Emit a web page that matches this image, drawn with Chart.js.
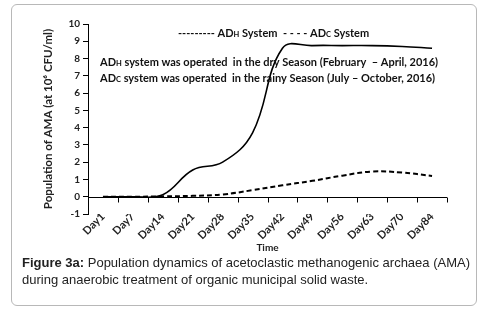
<!DOCTYPE html>
<html>
<head>
<meta charset="utf-8">
<script src="https://cdn.jsdelivr.net/npm/chart.js@4.4.0/dist/chart.umd.min.js"></script>
<style>
  body { margin: 0; background: #fff; }
  #frame { position: absolute; left: 11px; top: 4px; width: 464px; height: 300px; border: 1px solid #b8b8b8; border-radius: 6px; }
  #amaChart { position: absolute; left: 0; top: 0; }
  #caption { position: absolute; left: 22px; top: 254px; font: 13px "Liberation Sans", Arial, sans-serif; line-height: 17px; color: #222; white-space: nowrap; }
</style>
</head>
<body>
<div id="frame"></div>
<canvas id="amaChart" width="484" height="310"></canvas>
<div id="caption"><b>Figure 3a:</b> Population dynamics of acetoclastic methanogenic archaea (AMA)<br>during anaerobic treatment of organic municipal solid waste.</div>
<script>
// data
const days = ['Day1', 'Day7', 'Day14', 'Day21', 'Day28', 'Day35', 'Day42', 'Day49', 'Day56', 'Day63', 'Day70', 'Day84'];
const adH = [0, 0, 0.12, 1.55, 2.0, 3.7, 8.6, 8.75, 8.75, 8.75, 8.7, 8.6];
const adC = [0, 0, 0.02, 0.05, 0.13, 0.38, 0.66, 0.92, 1.22, 1.46, 1.4, 1.2];
const yTicks = { min: -1, max: 10, step: 1 };

const boldFont = "'Lato', 'DejaVu Sans', sans-serif";

// draws pieces of text one after another, some of them as small subscripts
function drawPieces(ctx, pieces, x, y) {
    pieces.forEach(p => {
        const size = p.sub ? 7.5 : 11;
        ctx.font = 'bold ' + size + 'px ' + boldFont;
        ctx.fillText(p.t, x, y + (p.sub ? 1.5 : 0));
        x += ctx.measureText(p.t).width;
    });
}

// zero line with tick marks + legend text + notes
const extras = {
    id: 'extras',
    beforeDatasetsDraw(chart) {
        const ctx = chart.ctx;
        const xs = chart.scales.x;
        const ys = chart.scales.y;
        const area = chart.chartArea;
        const y0 = Math.round(ys.getPixelForValue(0)) + 0.5;
        ctx.save();
        ctx.strokeStyle = '#000';
        ctx.lineWidth = 1;
        ctx.beginPath();
        ctx.moveTo(area.left, y0);
        ctx.lineTo(area.right, y0);
        for (let i = 0; i <= days.length; i++) {
            const x = Math.round(xs.getPixelForValue(i - 0.5)) + 0.5;
            ctx.moveTo(x, y0);
            ctx.lineTo(x, y0 + 5);
        }
        ctx.stroke();
        ctx.restore();
    },
    afterDraw(chart) {
        const ctx = chart.ctx;
        const ys = chart.scales.y;
        const left = chart.chartArea.left;
        ctx.save();
        ctx.fillStyle = '#111';
        ctx.textBaseline = 'middle';
        drawPieces(ctx, [{t: '--------- AD'}, {t: 'H', sub: true}, {t: ' System'}], left + 90, ys.getPixelForValue(9.45));
        drawPieces(ctx, [{t: '- - - - AD'}, {t: 'C', sub: true}, {t: ' System'}], left + 195, ys.getPixelForValue(9.45));
        drawPieces(ctx, [{t: 'AD'}, {t: 'H', sub: true}, {t: ' system was operated  in the dry Season (February  \u2013 April, 2016)'}], left + 12, ys.getPixelForValue(7.8));
        drawPieces(ctx, [{t: 'AD'}, {t: 'C', sub: true}, {t: ' system was operated  in the rainy Season (July \u2013 October, 2016)'}], left + 12, ys.getPixelForValue(6.85));
        ctx.restore();
    }
};

const ctx = document.getElementById('amaChart').getContext('2d');

const amaChart = new Chart(ctx, {
    type: 'line',
    data: {
        labels: days,
        datasets: [{
            label: 'ADH System',
            data: adH,
            borderColor: '#000',
            borderWidth: 1.6,
            pointRadius: 0,
            tension: 0.4,
            fill: false
        }, {
            label: 'ADC System',
            data: adC,
            borderColor: '#000',
            borderWidth: 2,
            borderDash: [5, 3],
            pointRadius: 0,
            tension: 0.4,
            fill: false
        }]
    },
    options: {
        responsive: false,
        animation: false,
        devicePixelRatio: 1,
        layout: {
            padding: { left: 28, right: 37, top: 24, bottom: 56 }
        },
        plugins: {
            legend: { display: false },
            tooltip: { enabled: false }
        },
        scales: {
            x: {
                offset: true,
                afterFit: s => { s.height = 40; },
                grid: { display: false },
                border: { display: false },
                ticks: {
                    autoSkip: false,
                    minRotation: 45,
                    maxRotation: 45,
                    padding: -12,
                    color: '#222',
                    font: { family: boldFont, size: 11, weight: 'bold' }
                },
                title: {
                    display: true,
                    text: 'Time',
                    color: '#222',
                    padding: { top: 0, bottom: 0 },
                    font: { family: boldFont, size: 10, weight: 'bold' }
                }
            },
            y: {
                min: yTicks.min,
                max: yTicks.max,
                afterFit: s => { s.width = 60; },
                grid: {
                    drawOnChartArea: false,
                    drawTicks: true,
                    tickLength: 5,
                    color: '#000'
                },
                border: { display: true, color: '#000', width: 1 },
                ticks: {
                    stepSize: yTicks.step,
                    padding: 3,
                    color: '#222',
                    font: { family: boldFont, size: 10, weight: 'bold' }
                },
                title: {
                    display: true,
                    text: 'Population of AMA (at 10\u2076 CFU/ml)',
                    color: '#222',
                    padding: { top: 13, bottom: 0 },
                    font: { family: boldFont, size: 11.5, weight: 'bold' }
                }
            }
        }
    },
    plugins: [extras]
});
</script>
</body>
</html>
